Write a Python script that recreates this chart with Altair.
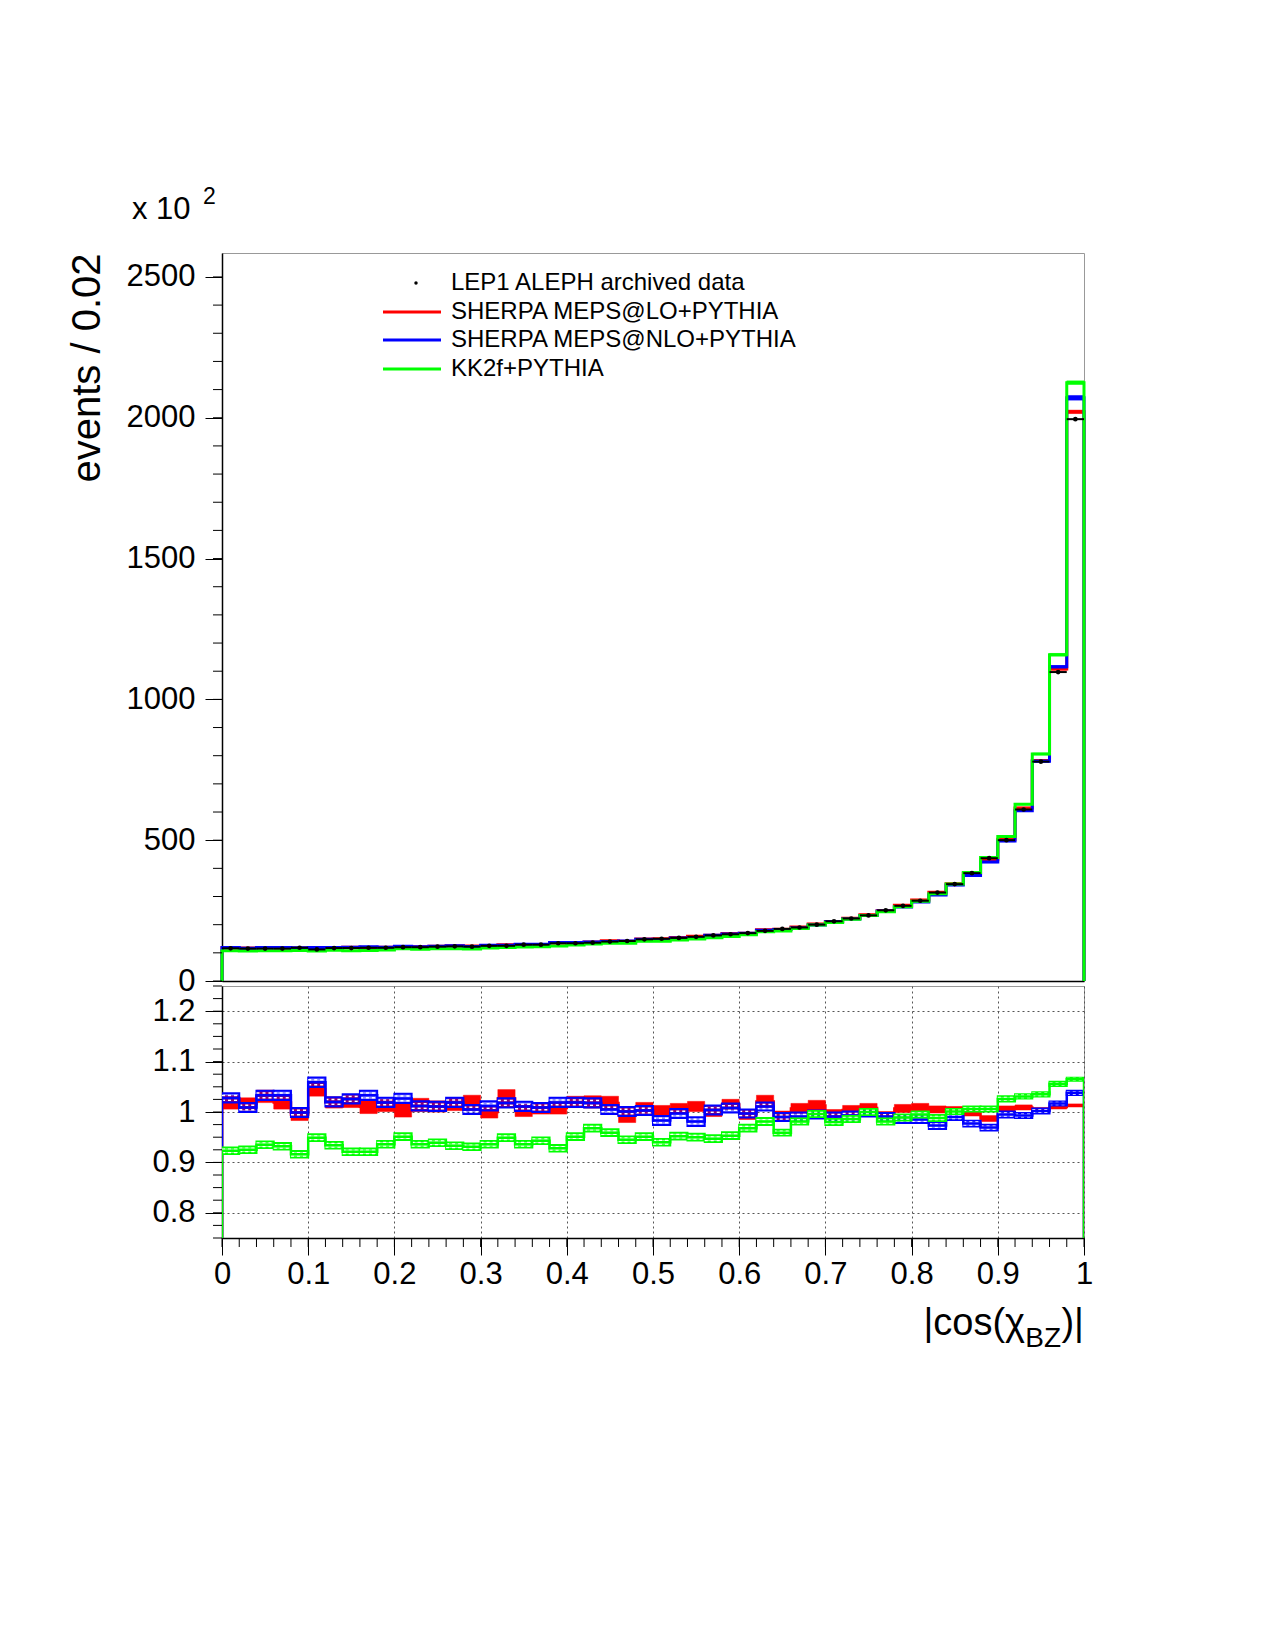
import altair as alt
import pandas as pd

FONT = "Liberation Sans"

# ---------------- values ----------------
BIN_WIDTH = 0.02
N_BINS = 50

# data: events per bin, in units of 10^2
data_counts = [116, 115, 115, 115, 118, 112, 117, 117, 118, 118,
               120, 120, 122, 123, 122, 125, 125, 129, 129, 134,
               134, 136, 140, 142, 148, 150, 153, 157, 162, 166,
               170, 178, 185, 190, 200, 212, 222, 233, 251, 267,
               285, 314, 344, 383, 436, 500, 609, 779, 1097, 1995]

# MC / data ratios (lower panel)
lo_ratio = [1.019, 1.016, 1.031, 1.019, 0.995, 1.045, 1.019, 1.021, 1.011, 1.013,
            1.003, 1.014, 1.011, 1.015, 1.018, 1.000, 1.027, 1.003, 1.007, 1.008,
            1.020, 1.020, 1.018, 0.994, 1.008, 1.002, 1.007, 1.011, 1.001, 1.015,
            0.995, 1.021, 0.993, 1.007, 1.013, 0.996, 1.004, 1.008, 0.993, 1.007,
            1.009, 1.005, 1.004, 0.999, 0.987, 1.007, 1.009, 1.005, 1.010, 1.013]
nlo_ratio = [1.028, 1.009, 1.033, 1.033, 0.999, 1.059, 1.020, 1.026, 1.033, 1.019,
             1.027, 1.012, 1.011, 1.019, 1.005, 1.012, 1.018, 1.011, 1.009, 1.019,
             1.019, 1.018, 1.005, 1.001, 1.003, 0.983, 0.997, 0.981, 1.004, 1.008,
             0.997, 1.011, 0.990, 0.991, 0.995, 0.991, 0.993, 0.998, 0.991, 0.985,
             0.985, 0.973, 0.990, 0.977, 0.969, 0.995, 0.993, 1.002, 1.017, 1.038]
kk_ratio = [0.923, 0.925, 0.935, 0.932, 0.916, 0.949, 0.934, 0.921, 0.921, 0.936,
            0.951, 0.936, 0.939, 0.933, 0.931, 0.936, 0.949, 0.936, 0.943, 0.928,
            0.951, 0.968, 0.959, 0.945, 0.951, 0.940, 0.952, 0.950, 0.947, 0.953,
            0.968, 0.981, 0.959, 0.981, 0.996, 0.980, 0.986, 1.000, 0.981, 0.989,
            0.995, 0.988, 1.001, 1.006, 1.006, 1.026, 1.031, 1.035, 1.056, 1.065]

# relative uncertainties of the MC predictions
lo_err = [0.013, 0.012, 0.012, 0.013, 0.012, 0.013, 0.011, 0.012, 0.014, 0.012,
          0.013, 0.013, 0.011, 0.012, 0.015, 0.012, 0.017, 0.012, 0.011, 0.012,
          0.011, 0.012, 0.013, 0.015, 0.011, 0.011, 0.010, 0.010, 0.010, 0.010,
          0.010, 0.012, 0.009, 0.010, 0.010, 0.009, 0.009, 0.009, 0.008, 0.008,
          0.008, 0.007, 0.007, 0.007, 0.006, 0.005, 0.005, 0.004, 0.004, 0.003]
nlo_err = [0.009, 0.009, 0.009, 0.009, 0.009, 0.009, 0.009, 0.009, 0.009, 0.009,
           0.009, 0.009, 0.009, 0.009, 0.009, 0.009, 0.009, 0.009, 0.009, 0.009,
           0.009, 0.009, 0.009, 0.009, 0.009, 0.009, 0.009, 0.009, 0.009, 0.009,
           0.008, 0.008, 0.008, 0.008, 0.008, 0.008, 0.008, 0.007, 0.007, 0.007,
           0.007, 0.007, 0.006, 0.006, 0.006, 0.006, 0.005, 0.005, 0.004, 0.004]
kk_err = [0.007, 0.007, 0.007, 0.007, 0.007, 0.007, 0.007, 0.007, 0.007, 0.007,
          0.007, 0.007, 0.007, 0.007, 0.007, 0.007, 0.007, 0.007, 0.007, 0.007,
          0.007, 0.007, 0.007, 0.007, 0.007, 0.007, 0.007, 0.007, 0.007, 0.007,
          0.007, 0.007, 0.006, 0.006, 0.006, 0.006, 0.006, 0.006, 0.006, 0.006,
          0.006, 0.006, 0.005, 0.005, 0.005, 0.005, 0.004, 0.004, 0.004, 0.003]

series_names = ["SHERPA MEPS@LO+PYTHIA", "SHERPA MEPS@NLO+PYTHIA", "KK2f+PYTHIA"]
series_colors = ["#ff0000", "#0000ff", "#00ff00"]
series_ratios = [lo_ratio, nlo_ratio, kk_ratio]
series_errs = [lo_err, nlo_err, kk_err]
series_hatched = [False, True, True]
data_label = "LEP1 ALEPH archived data"

# axis tick values
y_major = [0, 500, 1000, 1500, 2000, 2500]
y_minor = list(range(0, 2600, 100))
r_major = [0.8, 0.9, 1.0, 1.1, 1.2]
r_minor = [0.75, 0.775, 0.8, 0.825, 0.85, 0.875, 0.9, 0.925, 0.95, 0.975, 1.0,
           1.025, 1.05, 1.075, 1.1, 1.125, 1.15, 1.175, 1.2, 1.225, 1.25]
x_major = [0, 0.1, 0.2, 0.3, 0.4, 0.5, 0.6, 0.7, 0.8, 0.9, 1]
x_minor = [i * BIN_WIDTH for i in range(N_BINS + 1)]

# ---------------- helpers ----------------
bin_lo = [i * BIN_WIDTH for i in range(N_BINS)]
bin_hi = [(i + 1) * BIN_WIDTH for i in range(N_BINS)]
bin_mid = [(i + 0.5) * BIN_WIDTH for i in range(N_BINS)]

W, H_TOP, H_RAT = 862, 728, 252
X_SCALE = alt.Scale(domain=[0, 1], nice=False, zero=False)
YT_SCALE = alt.Scale(domain=[0, 2585], nice=False, zero=False)
YR_SCALE = alt.Scale(domain=[0.75, 1.25], nice=False, zero=False)
ONE = pd.DataFrame({"k": [0]})

# axes (the same object is given to every layer of a panel so they merge cleanly)
X_AXIS_TOP = alt.Axis(ticks=False, labels=False, title=None, grid=False,
                      domainColor="black", domainWidth=1.5)
Y_AXIS_TOP = alt.Axis(values=y_major, tickSize=17, tickWidth=1, labelFontSize=31,
                      labelPadding=10, format="d", grid=False, domainWidth=1.5,
                      title="events / 0.02", titleFontSize=40, titleAngle=270,
                      titleX=-135, titleY=0, titleAlign="right", titleBaseline="middle")
X_AXIS_RAT = alt.Axis(values=x_major, tickSize=17, tickWidth=1, labelFontSize=31,
                      labelPadding=4, format="~g", grid=True, gridDash=[2, 3],
                      gridColor="#555555", gridWidth=1, title=None, domainWidth=1.5,
                      labelFlush=False)
Y_AXIS_RAT = alt.Axis(values=r_major, tickSize=17, tickWidth=1, labelFontSize=31,
                      labelPadding=10, format="~g", grid=True, gridDash=[2, 3],
                      gridColor="#555555", gridWidth=1, title=None, domainWidth=1.5)


def step_frame(values):
    xs = [0.0] + bin_lo + [1.0, 1.0]
    ys = [0.0] + list(values) + [values[-1], 0.0]
    return pd.DataFrame({"x": xs, "y": ys, "order": list(range(len(xs)))})


def box_frame(values, rel):
    return pd.DataFrame({
        "lo": bin_lo, "hi": bin_hi,
        "y1": [v * (1 - e) for v, e in zip(values, rel)],
        "y2": [v * (1 + e) for v, e in zip(values, rel)],
        "h1": [v * (1 - 0.5 * e) for v, e in zip(values, rel)],
        "h2": [v * (1 + 0.5 * e) for v, e in zip(values, rel)],
    })


def series_layers(values, rel, color, hatched, yscale, lw, xaxis, yaxis, clip=False):
    bf = box_frame(values, rel)
    layers = []
    if hatched:
        box = alt.Chart(bf).mark_rect(fill=color, fillOpacity=0.45, stroke=color,
                                      strokeWidth=2, clip=clip)
    else:
        box = alt.Chart(bf).mark_rect(fill=color, stroke=color, strokeWidth=0.5, clip=clip)
    layers.append(box.encode(
        x=alt.X("lo:Q", scale=X_SCALE, axis=xaxis), x2="hi:Q",
        y=alt.Y("y1:Q", scale=yscale, axis=yaxis), y2="y2:Q"))
    if hatched:
        for f in ["h1", "h2"]:
            layers.append(alt.Chart(bf).mark_rule(color="white", strokeWidth=1.5,
                                                  strokeDash=[3, 3], clip=clip).encode(
                x=alt.X("lo:Q", scale=X_SCALE, axis=xaxis), x2="hi:Q",
                y=alt.Y(f + ":Q", scale=yscale, axis=yaxis)))
    layers.append(alt.Chart(step_frame(values)).mark_line(
        interpolate="step-after", color=color, strokeWidth=lw, clip=clip).encode(
        x=alt.X("x:Q", scale=X_SCALE, axis=xaxis),
        y=alt.Y("y:Q", scale=yscale, axis=yaxis),
        order="order:Q"))
    return layers


# ---------------- top panel ----------------
top_layers = []
# invisible corner fixing the page origin
top_layers.append(alt.Chart(ONE).mark_rule(strokeWidth=0, opacity=0).encode(
    x=alt.value(-221), x2=alt.value(-200), y=alt.value(-252), y2=alt.value(-252)))

for ratio, rel, color in zip(series_ratios, series_errs, series_colors):
    mc_vals = [d * r for d, r in zip(data_counts, ratio)]
    top_layers += series_layers(mc_vals, rel, color, False, YT_SCALE, 3,
                                X_AXIS_TOP, Y_AXIS_TOP)

data_df = pd.DataFrame({"lo": bin_lo, "hi": bin_hi, "mid": bin_mid, "v": data_counts})
top_layers.append(alt.Chart(data_df).mark_rule(color="black", strokeWidth=2).encode(
    x=alt.X("lo:Q", scale=X_SCALE, axis=X_AXIS_TOP), x2="hi:Q",
    y=alt.Y("v:Q", scale=YT_SCALE, axis=Y_AXIS_TOP)))
top_layers.append(alt.Chart(data_df).mark_point(filled=True, color="black", size=22,
                                                 shape="circle", opacity=1).encode(
    x=alt.X("mid:Q", scale=X_SCALE, axis=X_AXIS_TOP),
    y=alt.Y("v:Q", scale=YT_SCALE, axis=Y_AXIS_TOP)))

# minor y ticks
top_layers.append(alt.Chart(pd.DataFrame({"t": y_minor})).mark_rule(
    color="black", strokeWidth=1).encode(
    y=alt.Y("t:Q", scale=YT_SCALE, axis=Y_AXIS_TOP), x=alt.value(-9), x2=alt.value(0)))

# exponent label
top_layers.append(alt.Chart(ONE).mark_text(text="x 10", align="left", baseline="alphabetic",
                                           fontSize=31, font=FONT, color="black").encode(
    x=alt.value(-90), y=alt.value(-34)))
top_layers.append(alt.Chart(ONE).mark_text(text="2", align="left", baseline="alphabetic",
                                           fontSize=23, font=FONT, color="black").encode(
    x=alt.value(-19), y=alt.value(-49)))

# legend
legend_rows = [30, 59, 87, 116]
top_layers.append(alt.Chart(ONE).mark_point(filled=True, color="black", size=12,
                                             shape="circle", opacity=1).encode(
    x=alt.value(194), y=alt.value(legend_rows[0])))
for name, row in zip([data_label] + series_names, legend_rows):
    top_layers.append(alt.Chart(ONE).mark_text(text=name, align="left", baseline="middle",
                                               fontSize=24, font=FONT, color="black").encode(
        x=alt.value(229), y=alt.value(row)))
for color, row in zip(series_colors, legend_rows[1:]):
    top_layers.append(alt.Chart(ONE).mark_rule(color=color, strokeWidth=3).encode(
        x=alt.value(161), x2=alt.value(219), y=alt.value(row)))

top = alt.layer(*top_layers).properties(width=W, height=H_TOP)

# ---------------- ratio panel ----------------
rat_layers = []
rat_layers.append(alt.Chart(ONE).mark_rule(strokeWidth=0, opacity=0).encode(
    x=alt.value(-221), x2=alt.value(-200), y=alt.value(10)))
for ratio, rel, color, hatched in zip(series_ratios, series_errs, series_colors,
                                      series_hatched):
    rat_layers += series_layers(ratio, rel, color, hatched, YR_SCALE, 2.5,
                                X_AXIS_RAT, Y_AXIS_RAT, clip=True)

rat_layers.append(alt.Chart(pd.DataFrame({"t": r_minor})).mark_rule(
    color="black", strokeWidth=1).encode(
    y=alt.Y("t:Q", scale=YR_SCALE, axis=Y_AXIS_RAT), x=alt.value(-9), x2=alt.value(0)))
rat_layers.append(alt.Chart(pd.DataFrame({"t": x_minor})).mark_rule(
    color="black", strokeWidth=1).encode(
    x=alt.X("t:Q", scale=X_SCALE, axis=X_AXIS_RAT), y=alt.value(H_RAT), y2=alt.value(H_RAT + 9)))

# x-axis title |cos(chi_BZ)|
rat_layers.append(alt.Chart(ONE).mark_text(text="|cos(χ", align="right", baseline="alphabetic",
                                           fontSize=38, font=FONT, color="black").encode(
    x=alt.value(803), y=alt.value(349)))
rat_layers.append(alt.Chart(ONE).mark_text(text="BZ", align="right", baseline="alphabetic",
                                           fontSize=28, font=FONT, color="black").encode(
    x=alt.value(839), y=alt.value(361)))
rat_layers.append(alt.Chart(ONE).mark_text(text=")|", align="right", baseline="alphabetic",
                                           fontSize=38, font=FONT, color="black").encode(
    x=alt.value(862), y=alt.value(349)))

ratio_panel = alt.layer(*rat_layers).properties(width=W, height=H_RAT)

chart = alt.vconcat(top, ratio_panel, spacing=5, bounds="flush").properties(
    padding={"left": 0, "top": 0, "right": 10, "bottom": 10},
    background="white",
).configure_view(
    stroke="#999999", strokeWidth=1
).configure_axis(
    labelFont=FONT, titleFont=FONT, domainColor="black", tickColor="black",
    labelColor="black", titleColor="black", titleFontWeight="normal"
)

chart.save("out.html", embed_options={"renderer": "svg", "actions": False})
